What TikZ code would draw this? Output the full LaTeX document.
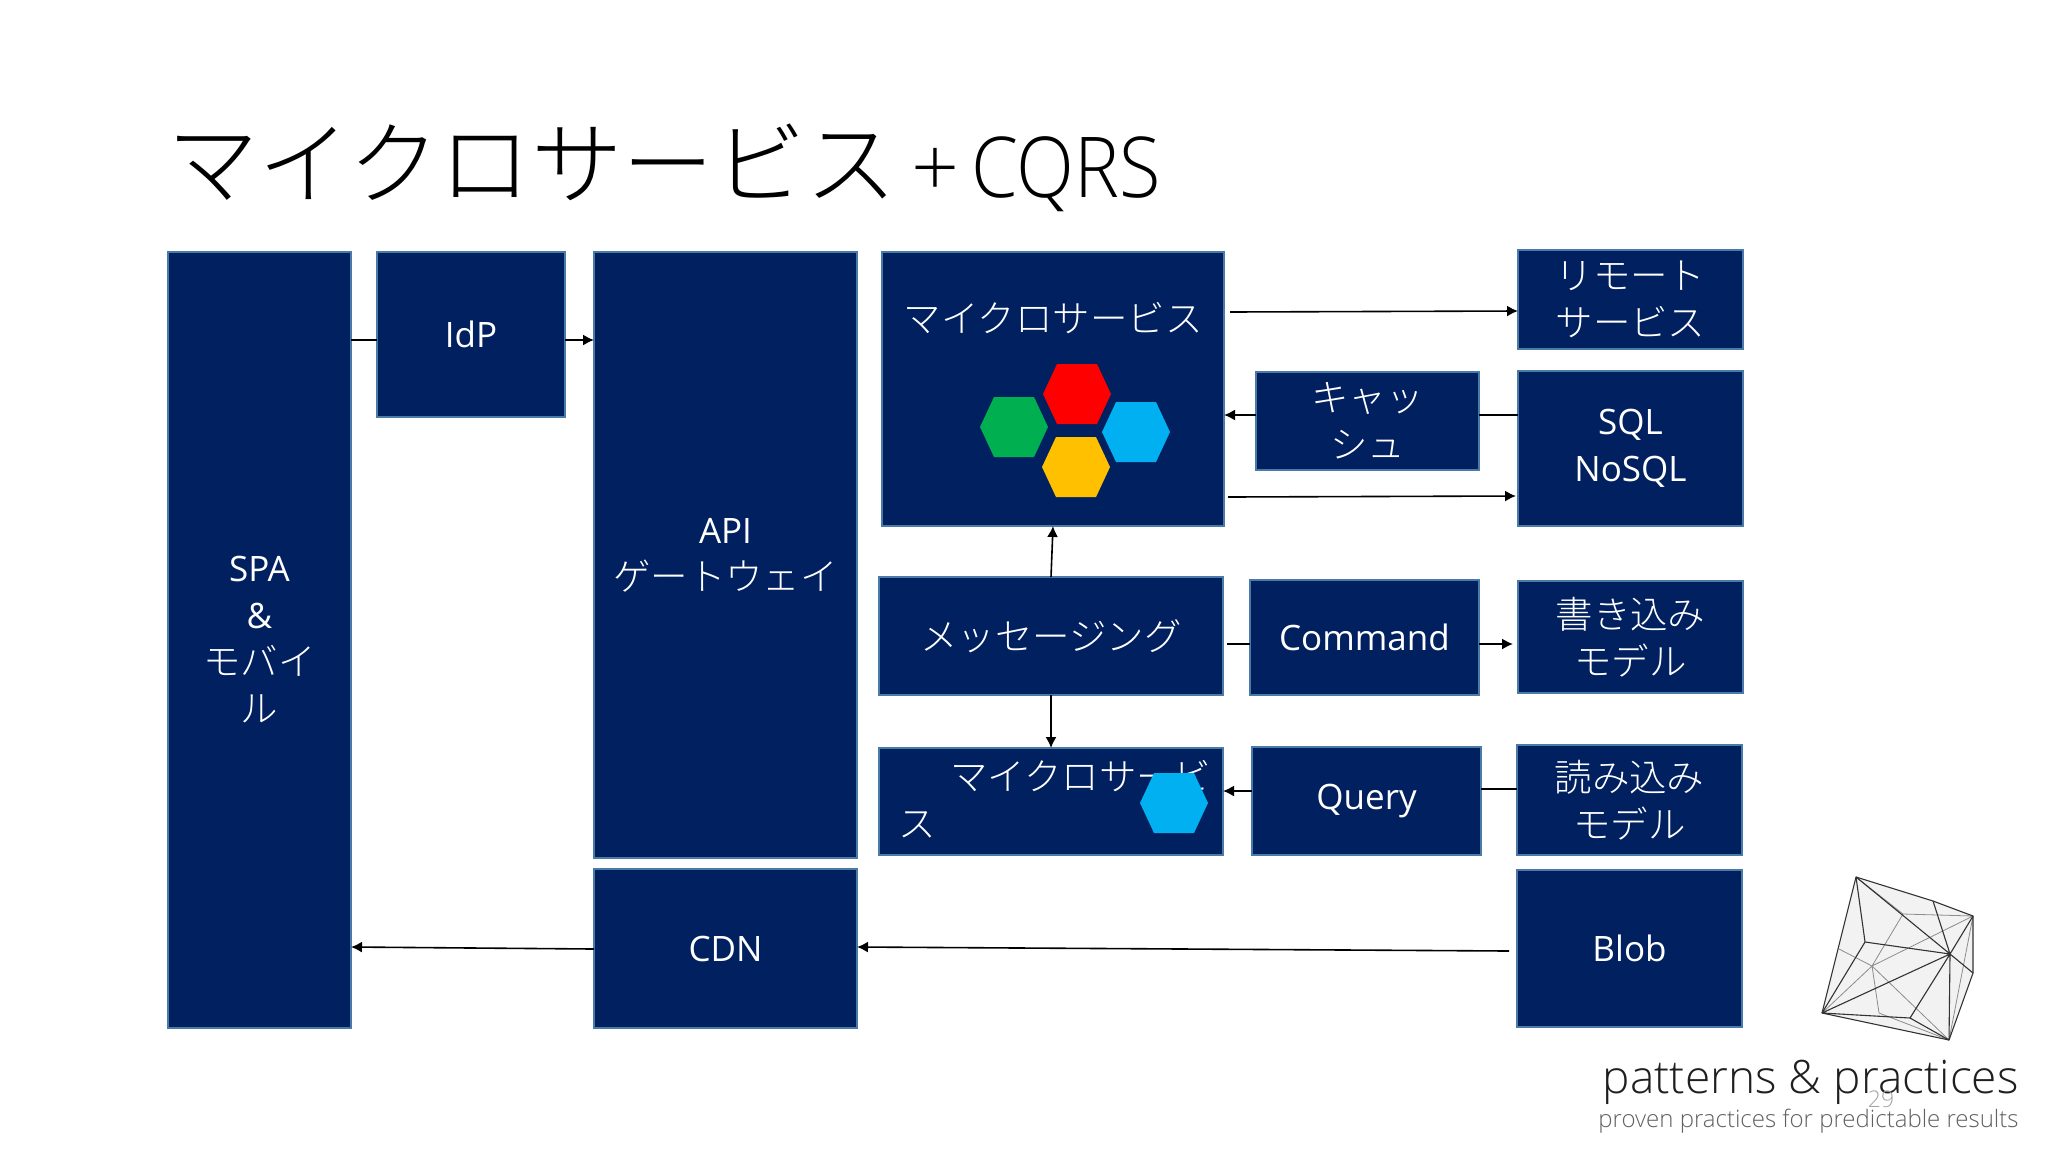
\documentclass[tikz,border=0pt]{standalone}
\usepackage{fontspec}
\usetikzlibrary{arrows.meta}
\setmainfont{Open Sans}
\IfFontExistsTF{Noto Sans CJK JP Light}
  {\newfontfamily\jpf{Noto Sans CJK JP Light}[Scale=1.07]\newfontfamily\jpt{Noto Sans CJK JP Light}}
  {\newfontfamily\jpf{Noto Sans CJK JP}[Scale=1.07]\newfontfamily\jpt{Noto Sans CJK JP}}
\IfFontExistsTF{Open Sans Light}
  {\newfontfamily\lgt{Open Sans Light}\newfontfamily\lgtn{Open Sans Light}[FakeStretch=0.9]}
  {\newfontfamily\lgt{Open Sans}\newfontfamily\lgtn{Open Sans}[FakeStretch=0.9]}
\newcommand{\jj}[1]{{\jpf #1}}
\definecolor{navy}{HTML}{002060}
\definecolor{edgeb}{HTML}{4A7BA8}
\definecolor{hexg}{HTML}{00B050}
\definecolor{hexb}{HTML}{00B0F0}
\definecolor{hexy}{HTML}{FFC000}
\tikzset{
  box/.style={draw=edgeb,fill=navy,line width=1pt,inner sep=0pt,outer sep=0pt,text=white,align=center,
    font=\fontsize{17.5}{23.5}\selectfont},
  lbl/.style={inner sep=0pt,outer sep=0pt,text=white,font=\fontsize{17.5}{23.5}\selectfont},
  conn/.style={draw=black,line width=0.8pt},
  arr/.style={conn,-{Latex[length=5.5pt,width=5.5pt]}},
  logod/.style={draw=black!80,line width=0.55pt},
  logog/.style={draw=black!45,line width=0.4pt}
}
% name, x1, y1, x2, y2, text
\newcommand{\bx}[6]{%
  \pgfmathsetmacro{\bw}{(#4-#2)*0.5}\pgfmathsetmacro{\bh}{(#5-#3)*0.5}%
  \node[box,minimum width=\bw pt,minimum height=\bh pt] (#1) at ({(#2+#4)/2},{(#3+#5)/2}) {#6};}
% centre x, centre y, fill
\newcommand{\hx}[3]{%
  \fill[#3] (#1-34,#2) -- (#1-20,#2-30) -- (#1+20,#2-30) -- (#1+34,#2) -- (#1+20,#2+30) -- (#1-20,#2+30) -- cycle;}
\begin{document}
\begin{tikzpicture}[x=0.5pt,y=-0.5pt]
\useasboundingbox (0,0) rectangle (2048,1152);
\fill[white] (0,0) rectangle (2048,1152);

\node[anchor=base west,inner sep=0pt,outer sep=0pt] (title) at (167,197)
  {\fontsize{45.75}{50}\selectfont{\jpt マイクロサービス}\hspace{7pt}{\lgt\fontsize{42}{50}\selectfont +\hspace{6pt}}{\lgtn\fontsize{42}{50}\selectfont CQRS}};

\bx{spa}{168}{252}{351}{1028}{SPA\\\&\\\jj{モバイ}\\\jj{ル}}
\bx{idp}{377}{252}{565}{417}{IdP}
\bx{api}{594}{252}{857}{858}{API\\\jj{ゲートウェイ}}
\bx{cdn}{594}{869}{857}{1028}{CDN}
\bx{micro}{882}{252}{1224}{526}{}
\node[lbl] (microtxt) at (1053,318) {\jj{マイクロサービス}};
\bx{remote}{1518}{250}{1743}{349}{\jj{リモート}\\\jj{サービス}}
\bx{cache}{1256}{372}{1479}{470}{\jj{キャッ}\\\jj{シュ}}
\bx{sql}{1518}{371}{1743}{526}{SQL\\NoSQL}
\bx{msg}{879}{577}{1223}{695}{\jj{メッセージング}}
\bx{cmd}{1250}{580}{1479}{695}{Command}
\bx{write}{1518}{581}{1743}{693}{\jj{書き込み}\\\jj{モデル}}
\bx{micro2}{879}{748}{1223}{855}{}
\node[lbl,align=left,anchor=west] (micro2txt) at (898,799) {\hspace{26pt}\jj{マイクロサービ}\\\jj{ス}};
\bx{query}{1252}{747}{1481}{855}{Query}
\bx{read}{1517}{745}{1742}{855}{\jj{読み込み}\\\jj{モデル}}
\bx{blob}{1517}{870}{1742}{1027}{Blob}

\hx{1077}{394}{red}
\hx{1014}{427}{hexg}
\hx{1136}{432}{hexb}
\hx{1076}{467}{hexy}
\hx{1174}{803}{hexb}

\draw[conn] (spa.east|-0,340) -- (idp.west|-0,340);
\draw[arr] (idp.east|-0,340) -- (api.west|-0,340);
\draw[arr] ([xshift=3pt]micro.east|-0,312) -- (remote.west|-0,311);
\draw[arr] (cache.west|-0,415) -- (micro.east|-0,415);
\draw[conn] (cache.east|-0,415) -- (sql.west|-0,415);
\draw[arr] ([xshift=2pt]micro.east|-0,497) -- ([xshift=-1pt]sql.west|-0,496);
\draw[arr] (msg.north) -- (micro.south);
\draw[arr] (msg.south) -- (micro2.north);
\draw[conn] ([xshift=2pt]msg.east|-0,644) -- (cmd.west|-0,644);
\draw[arr] (cmd.east|-0,644) -- ([xshift=-2.5pt]write.west|-0,644);
\draw[arr] (query.west|-0,791) -- (micro2.east|-0,791);
\draw[conn] (query.east|-0,789) -- (read.west|-0,789);
\draw[arr] ([xshift=-4pt]blob.west|-0,951) -- (cdn.east|-0,947);
\draw[arr] (cdn.west|-0,949) -- (spa.east|-0,947);

% logo
\coordinate (A) at (1856,877);\coordinate (B) at (1933,901);\coordinate (C) at (1973,916);
\coordinate (D) at (1973,973);\coordinate (E) at (1950,954);\coordinate (F) at (1949,1040);
\coordinate (G) at (1822,1013);\coordinate (H) at (1865,942);\coordinate (I) at (1910,1018);
\coordinate (J) at (1903,914);\coordinate (K) at (1872,966);\coordinate (L) at (1879,1013);
\coordinate (M) at (1839,949);
\fill[black!5] (A)--(B)--(C)--(D)--(F)--(G)--cycle;
\draw[logog] (J)--(C) (J)--(K) (G)--(K) (K)--(C) (K)--(M) (K)--(L) (K)--(F) (L)--(F) (A)--(J) (C)--(F);
\draw[logod,line join=round] (A)--(B)--(C)--(D)--(F)--(G)--cycle;
\draw[logod] (A)--(E) (B)--(E) (C)--(E) (D)--(E) (E)--(F) (E)--(G) (E)--(H) (H)--(G) (H)--(A) (E)--(I) (I)--(G) (I)--(F);

\node[anchor=base east,inner sep=0pt,text=black!88] (pp) at (2019,1093)
  {\lgt\fontsize{23}{28}\selectfont patterns \& practices};
\node[anchor=base east,inner sep=0pt,text=black!62] (pp2) at (2019,1127)
  {\lgt\fontsize{12}{14}\selectfont proven practices for predictable results};
\node[inner sep=0pt,text=black!35] (pnum) at (1881,1099)
  {\lgt\fontsize{11.5}{14}\selectfont 29};
\end{tikzpicture}
\end{document}
